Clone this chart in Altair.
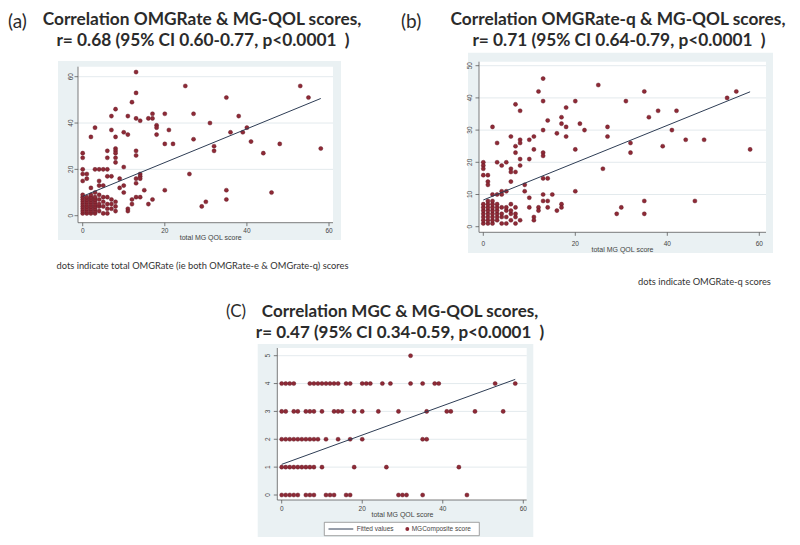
import altair as alt
import pandas as pd

# ---------------- data ----------------
# (a) total OMGRate vs total MG QOL score
a_upper = [(13,62),(25,56),(13,53),(12,49),(8,46),(7,43),(11,43),(13,42),(14,41),(16,42),
           (17,42),(17,44),(20,44),(18,39),(18,38),(18,35),(21,37),(7,37),(10,36),(11,35),
           (8,34),(2,34),(3,38),(20,31),(22,31),(8,29),(8,28),(8,27),(8,25),(8,23),(6,28),
           (6,25),(13,28),(13,26),(0,27),(0,25),(27,44),(27,33),(31,40),(32,30),(32,28),
           (35,51),(36,36),(38,43),(39,36),(40,38),(41,32),(44,27),(48,31),(53,56),(55,51),
           (58,29),(26,18),(20,11),(35,11),(35,7),(30,6),(29,4),(46,10),(15,11),(17,7),
           (16,5),(14,8),(13,8),(12,7),(12,5),(11,3),(11,2),(14,18),(14,17),(13,16),(14,16),
           (13,14),(10,21),(9,16),(9,12),(10,13),(10,10),(8,2),(7,17),(6,17),(3,20),(4,20),
           (5,20),(6,20),(4,15),(4,13),(5,13),(2,12),(0,20),(0,18),(0,15),(1,18),(1,16)]
a_cluster = [(0,1),(0,2),(0,3),(0,4),(0,5),(0,6),(0,7),(0,8),(0,9),
             (1,1),(1,2),(1,3),(1,4),(1,5),(1,6),(1,7),(1,8),
             (2,1),(2,2),(2,3),(2,4),(2,5),(2,6),(2,7),(2,8),(2,9),
             (3,1),(3,2),(3,3),(3,4),(3,5),(3,6),(3,7),(3,8),(3,10),
             (4,2),(4,4),(4,5),(4,7),(4,9),(5,1),(5,4),(5,6),(5,8),
             (6,1),(6,3),(6,5),(6,8),(7,3),(7,5),(7,7),(8,4),(8,6)]
a_fit_x = [0, 58]
a_fit_y = [8.4, 50.6]

# (b) OMGRate-q vs total MG QOL score
b_upper = [(13,46),(25,44),(12,42),(35,42),(55,42),(53,40),(13,39),(20,39),(31,39),(7,38),
           (8,36),(18,37),(38,36),(42,36),(14,33),(17,34),(17,32),(18,31),(21,32),(22,30),
           (36,34),(27,31),(27,28),(41,30),(2,31),(13,30),(16,29),(18,28),(6,28),(8,27),
           (8,26),(7,25),(3,26),(11,28),(10,27),(44,27),(48,27),(39,25),(32,26),(32,23),
           (11,24),(20,24),(58,24),(7,23),(13,23),(13,22),(8,21),(10,21),(0,20),(0,19),
           (0,18),(3,20),(5,20),(4,19),(6,18),(6,17),(7,17),(8,19),(26,18),(0,16),(1,16),
           (1,14),(1,13),(6,14),(13,15),(14,15),(9,13),(9,11),(20,11),(15,10),(13,10),
           (13,8),(14,8),(10,9),(35,8),(35,4),(46,8),(30,6),(29,4),(17,7),(17,6),(14,6),
           (12,6),(12,5),(16,5),(11,3),(11,2),(10,6),(8,2),(2,10),(3,10),(4,11),(5,11)]
b_cluster = [(0,1),(0,2),(0,3),(0,4),(0,5),(0,6),(0,7),
             (1,1),(1,2),(1,3),(1,4),(1,5),(1,6),(1,7),(1,8),
             (2,1),(2,2),(2,3),(2,4),(2,5),(2,6),(2,7),(2,8),
             (3,2),(3,3),(3,4),(3,5),(3,6),(3,7),
             (4,1),(4,3),(4,4),(4,6),(4,10),(5,1),(5,3),(5,5),(5,6),
             (6,2),(6,4),(6,5),(6,7),(7,1),(7,3),(7,4),(7,6)]
b_fit_x = [0, 58]
b_fit_y = [8.3, 41.9]

# (c) MG Composite vs total MG QOL score (x values at each composite level)
c_lvl5 = [32]
c_lvl4 = [0,1,2,3,7,8,9,10,11,12,13,14,16,17,20,21,22,25,27,32,35,38,39,53,58]
c_lvl3 = [0,1,3,4,6,7,8,10,13,14,15,18,20,24,29,36,41,42,48,55]
c_lvl2 = [0,1,2,3,4,5,6,7,8,9,11,14,17,20,35,36]
c_lvl1 = [0,1,2,3,4,5,6,7,8,10,18,26,44]
c_lvl0 = [0,1,2,3,4,6,7,8,11,12,13,16,17,29,30,31,35,46]
c_fit_x = [0, 58]
c_fit_y = [1.1, 4.15]

ticks_x = [0, 20, 40, 60]
ticks_a = [0, 20, 40, 60]
ticks_b = [0, 10, 20, 30, 40, 50]
ticks_c = [0, 1, 2, 3, 4, 5]

# ---------------- styling ----------------
OFF = 8
BOX = "#EAF1F3"
GRID = "#DCE5E8"
AXC = "#5a5a5a"
PT = "#8E2A36"
PT_STROKE = "#5E1420"
LINE = "#2E3D55"
TXT = "#2b2b2b"
TITLE_FONT = "Lato"
SMALL_FONT = "Liberation Sans"
NB = "\u00a0\u00a0"


def P(v):
    return v - OFF


one = alt.Data(values=[{"k": 0}])


def panel(points, fit, G):
    xs = alt.Scale(domain=[0, 60], range=[P(G["xr"][0]), P(G["xr"][1])], zero=False, nice=False)
    ys = alt.Scale(domain=list(G["yd"]), range=[P(G["yr"][0]), P(G["yr"][1])], zero=False, nice=False)
    bx0, bx1, by0, by1 = G["box"]
    px0, px1, py0, py1 = G["plot"]

    box = alt.Chart(one).mark_rect(fill=BOX).encode(
        x=alt.value(P(bx0)), x2=alt.value(P(bx1)), y=alt.value(P(by0)), y2=alt.value(P(by1)))
    plot = alt.Chart(one).mark_rect(fill="white").encode(
        x=alt.value(P(px0)), x2=alt.value(P(px1)), y=alt.value(P(py0)), y2=alt.value(P(py1)))
    grid = alt.Chart(pd.DataFrame({"v": G["grid"]})).mark_rule(color=GRID, strokeWidth=0.8).encode(
        y=alt.Y("v:Q", scale=ys, axis=None), x=alt.value(P(px0)), x2=alt.value(P(px1)))
    xline = alt.Chart(one).mark_rule(color=AXC, strokeWidth=0.8).encode(
        x=alt.value(P(px0)), x2=alt.value(P(px1)), y=alt.value(P(py1)))
    yline = alt.Chart(one).mark_rule(color=AXC, strokeWidth=0.8).encode(
        x=alt.value(P(px0)), y=alt.value(P(py0)), y2=alt.value(P(py1)))
    xt_df = pd.DataFrame({"v": ticks_x, "s": [str(t) for t in ticks_x]})
    yt_df = pd.DataFrame({"v": G["yticks"], "s": [str(t) for t in G["yticks"]]})
    xticks = alt.Chart(xt_df).mark_rule(color=AXC, strokeWidth=0.8).encode(
        x=alt.X("v:Q", scale=xs, axis=None), y=alt.value(P(py1)), y2=alt.value(P(py1) + 3.5))
    xlabels = alt.Chart(xt_df).mark_text(font=SMALL_FONT, fontSize=6.5, color="#444",
                                         baseline="middle").encode(
        x=alt.X("v:Q", scale=xs, axis=None), y=alt.value(P(G["xlab_y"])), text="s:N")
    yticks = alt.Chart(yt_df).mark_rule(color=AXC, strokeWidth=0.8).encode(
        y=alt.Y("v:Q", scale=ys, axis=None), x=alt.value(P(px0) - 3.5), x2=alt.value(P(px0)))
    ylabels = alt.Chart(yt_df).mark_text(font=SMALL_FONT, fontSize=6.5, color="#444", angle=270,
                                         baseline="middle", align="center").encode(
        y=alt.Y("v:Q", scale=ys, axis=None), x=alt.value(P(G["ylab_x"])), text="s:N")
    xtitle = alt.Chart(one).mark_text(font=SMALL_FONT, fontSize=7, color="#444",
                                      text="total MG QOL score", baseline="middle").encode(
        x=alt.value(P(G["xtitle"][0])), y=alt.value(P(G["xtitle"][1])))
    pts = alt.Chart(points).mark_point(filled=True, size=17, color=PT, opacity=1,
                                       stroke=PT_STROKE, strokeWidth=0.4, shape="circle").encode(
        x=alt.X("x:Q", scale=xs, axis=None), y=alt.Y("y:Q", scale=ys, axis=None))
    line = alt.Chart(fit).mark_line(color=LINE, strokeWidth=1).encode(
        x=alt.X("x:Q", scale=xs, axis=None), y=alt.Y("y:Q", scale=ys, axis=None))
    return alt.layer(box, plot, grid, xticks, yticks, xline, yline, xlabels, ylabels, xtitle, pts, line)


def pairs_df(*groups):
    xs, ys = [], []
    for g in groups:
        for x, y in g:
            xs.append(x)
            ys.append(y)
    return pd.DataFrame({"x": xs, "y": ys})


a_df = pairs_df(a_upper, a_cluster)
b_df = pairs_df(b_upper, b_cluster)
c_x, c_y = [], []
for lvl, vals in [(5, c_lvl5), (4, c_lvl4), (3, c_lvl3), (2, c_lvl2), (1, c_lvl1), (0, c_lvl0)]:
    c_x += vals
    c_y += [lvl] * len(vals)
c_df = pd.DataFrame({"x": c_x, "y": c_y})

GA = dict(box=(58, 341, 61, 240), plot=(78, 333, 66.7, 222.7), xr=(82.7, 329), yr=(215.7, 76.7),
          yd=(0, 60), yticks=ticks_a, grid=[20, 40, 60], xlab_y=230.5, ylab_x=70.5,
          xtitle=(210.7, 237.5))
GB = dict(box=(468, 773, 52.7, 253), plot=(479, 766, 61.7, 232.3), xr=(483.3, 759.3), yr=(226.7, 65.7),
          yd=(0, 50), yticks=ticks_b, grid=[10, 20, 30, 40, 50], xlab_y=243.5, ylab_x=469.5,
          xtitle=(622.5, 250))
GC = dict(box=(257.7, 533.3, 344, 545), plot=(277.3, 526.7, 348, 500), xr=(281.7, 523.3), yr=(495, 355.7),
          yd=(0, 5), yticks=ticks_c, grid=[1, 2, 3, 4, 5], xlab_y=509.3, ylab_x=267.5,
          xtitle=(402.5, 514.5))

pa = panel(a_df, pd.DataFrame({"x": a_fit_x, "y": a_fit_y}), GA)
pb = panel(b_df, pd.DataFrame({"x": b_fit_x, "y": b_fit_y}), GB)
pc = panel(c_df, pd.DataFrame({"x": c_fit_x, "y": c_fit_y}), GC)


def text(t, x, y, size, weight="normal", align="left", font=TITLE_FONT, color=TXT):
    return alt.Chart(one).mark_text(text=t, font=font, fontSize=size, fontWeight=weight,
                                    align=align, color=color).encode(
        x=alt.value(P(x)), y=alt.value(P(y)))


texts = [
    text("(a)", 8, 21.5, 19),
    text("Correlation OMGRate & MG-QOL scores,", 202, 20, 17.3, "bold", "center"),
    text("r= 0.68 (95% CI 0.60-0.77, p<0.0001" + NB + ")", 203, 40.8, 17.3, "bold", "center"),
    text("dots indicate total OMGRate (ie both OMGRate-e & OMGrate-q) scores", 202.5, 266, 9.3,
         align="center", color="#333"),
    text("(b)", 401, 21.5, 19),
    text("Correlation OMGRate-q & MG-QOL scores,", 618, 20, 17.3, "bold", "center"),
    text("r= 0.71 (95% CI 0.64-0.79, p<0.0001" + NB + ")", 619, 40.5, 17.3, "bold", "center"),
    text("dots indicate OMGRate-q scores", 704.5, 282, 9.3, align="center", color="#333"),
    text("(C)", 226, 312, 17),
    text("Correlation MGC & MG-QOL scores,", 400, 312, 17, "bold", "center"),
    text("r= 0.47 (95% CI 0.34-0.59, p<0.0001" + NB + ")", 400, 332.5, 17, "bold", "center"),
]

# legend of panel (c)
leg_box = alt.Chart(one).mark_rect(fill="white", stroke="#8a8a8a", strokeWidth=0.8).encode(
    x=alt.value(P(324.3)), x2=alt.value(P(479.3)), y=alt.value(P(522.3)), y2=alt.value(P(535.7)))
leg_line = alt.Chart(one).mark_rule(color=LINE, strokeWidth=1).encode(
    x=alt.value(P(328.5)), x2=alt.value(P(353.3)), y=alt.value(P(529)))
leg_dot = alt.Chart(one).mark_point(filled=True, size=15, color=PT, opacity=1, shape="circle").encode(
    x=alt.value(P(407.3)), y=alt.value(P(529)))
leg_t1 = alt.Chart(one).mark_text(text="Fitted values", font=SMALL_FONT, fontSize=6.5, color="#444",
                                  align="left", baseline="middle").encode(
    x=alt.value(P(356.7)), y=alt.value(P(529.3)))
leg_t2 = alt.Chart(one).mark_text(text="MGComposite score", font=SMALL_FONT, fontSize=6.5, color="#444",
                                  align="left", baseline="middle").encode(
    x=alt.value(P(411.7)), y=alt.value(P(529.3)))

chart = alt.layer(pa, pb, pc, *texts, leg_box, leg_line, leg_dot, leg_t1, leg_t2).resolve_scale(
    x="independent", y="independent"
).properties(
    width=784, height=529, autosize="none", padding=0
).configure_view(stroke=None)

chart.save("out.html", embed_options={"renderer": "svg", "actions": False})
